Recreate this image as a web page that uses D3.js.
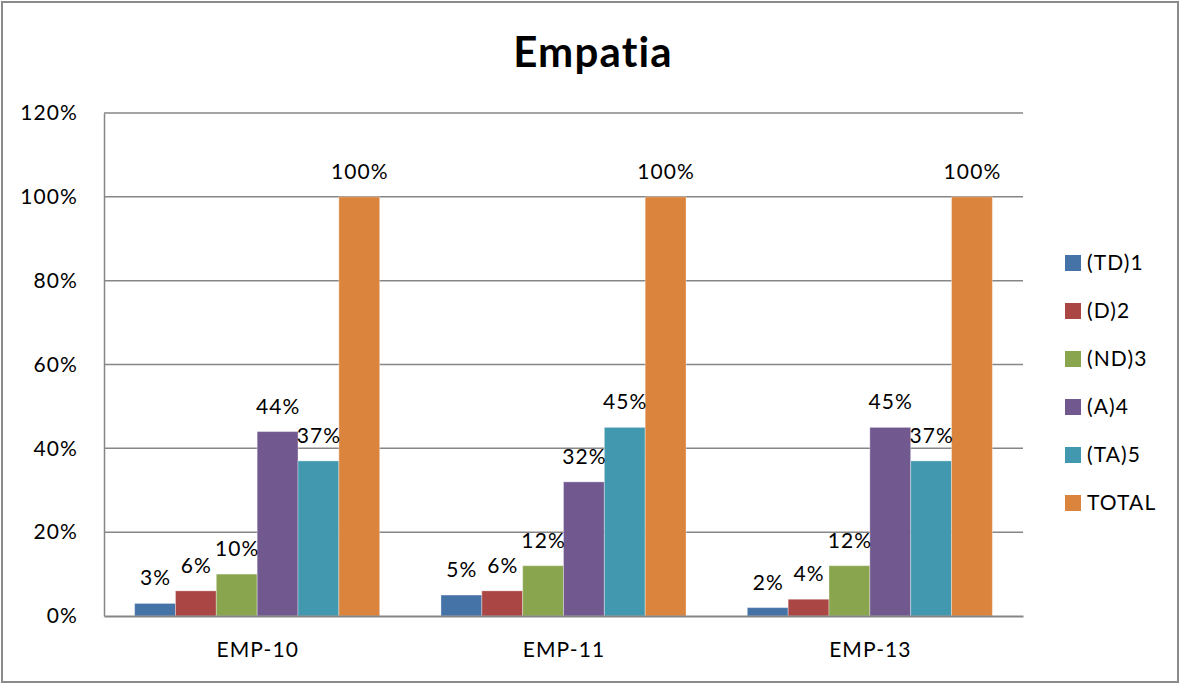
<!DOCTYPE html>
<html>
<head>
<meta charset="utf-8">
<script src="https://cdn.jsdelivr.net/npm/d3@7/dist/d3.min.js"></script>
<style>
  html, body { margin: 0; padding: 0; background: #fff; }
  svg { display: block; font-family: Lato, "Open Sans", sans-serif; }
</style>
</head>
<body>
<svg id="chart" width="1180" height="684"></svg>
<script>
// Survey results for the "Empatia" items, percent of answers per scale point
const categories = ["EMP-10", "EMP-11", "EMP-13"];
const seriesNames = ["(TD)1", "(D)2", "(ND)3", "(A)4", "(TA)5", "TOTAL"];
const td1   = [3, 5, 2];
const d2    = [6, 6, 4];
const nd3   = [10, 12, 12];
const a4    = [44, 32, 45];
const ta5   = [37, 45, 37];
const total = [100, 100, 100];
const yTicks = [0, 20, 40, 60, 80, 100, 120];
const colors = ["#4572A7", "#AA4643", "#89A54E", "#71588F", "#4198AF", "#DB843D"];

const seriesValues = [td1, d2, nd3, a4, ta5, total];

const svg = d3.select("#chart");
const W = 1180, H = 684;
const plot = { left: 104, right: 1023, top: 113, bottom: 616 };
const FS = 21, LS = 1.1;

// outer frame
svg.append("rect")
  .attr("x", 2).attr("y", 2)
  .attr("width", W - 4).attr("height", H - 4)
  .attr("fill", "#fff")
  .attr("stroke", "#8a8a8a")
  .attr("stroke-width", 2);

// title
svg.append("text")
  .attr("x", 593).attr("y", 67)
  .attr("text-anchor", "middle")
  .attr("font-size", 42)
  .attr("font-weight", "bold")
  .attr("letter-spacing", 1.2)
  .attr("fill", "#000")
  .text("Empatia");

const y = d3.scaleLinear().domain([0, 120]).range([plot.bottom, plot.top]);
const x0 = d3.scaleBand().domain(categories).range([plot.left, plot.right]).padding(0);
// six bars per cluster, 150% gap width between clusters
const gapFrac = 1.5 / (6 + 1.5);
const x1 = d3.scaleBand().domain(seriesNames)
  .range([x0.bandwidth() * gapFrac / 2, x0.bandwidth() * (1 - gapFrac / 2)])
  .padding(0);

// gridlines
svg.append("g")
  .selectAll("line")
  .data(yTicks.filter(t => t > 0))
  .join("line")
  .attr("x1", plot.left).attr("x2", plot.right)
  .attr("y1", d => y(d)).attr("y2", d => y(d))
  .attr("stroke", "#868686")
  .attr("stroke-width", 1.5);

// y axis
const yAxis = svg.append("g")
  .attr("transform", `translate(${plot.left},0)`)
  .call(d3.axisLeft(y).tickValues(yTicks).tickSize(0).tickPadding(26).tickFormat(d => d + "%"));
yAxis.select(".domain").attr("stroke", "#868686").attr("stroke-width", 1.5);
yAxis.selectAll("text").attr("font-size", FS).attr("fill", "#000")
  .attr("letter-spacing", LS)
  .attr("font-family", "Lato, 'Open Sans', sans-serif");

// bars
const groups = svg.append("g")
  .selectAll("g")
  .data(categories)
  .join("g")
  .attr("transform", d => `translate(${x0(d)},0)`);

groups.selectAll("rect")
  .data((c, ci) => seriesNames.map((s, si) => ({ s, si, v: seriesValues[si][ci] })))
  .join("rect")
  .attr("x", d => x1(d.s))
  .attr("width", x1.bandwidth())
  .attr("y", d => y(d.v))
  .attr("height", d => y(0) - y(d.v))
  .attr("fill", d => colors[d.si])
  .attr("stroke", "rgba(255,255,255,0.35)")
  .attr("stroke-width", 1);

// value labels
groups.selectAll("text.val")
  .data((c, ci) => seriesNames.map((s, si) => ({ s, si, v: seriesValues[si][ci] })))
  .join("text")
  .attr("class", "val")
  .attr("x", d => x1(d.s) + x1.bandwidth() / 2 + LS / 2)
  .attr("y", d => y(d.v) - 18)
  .attr("text-anchor", "middle")
  .attr("font-size", FS)
  .attr("letter-spacing", LS)
  .attr("fill", "#000")
  .text(d => d.v + "%");

// x axis
const xAxis = svg.append("g")
  .attr("transform", `translate(0,${plot.bottom})`)
  .call(d3.axisBottom(x0).tickSize(0).tickPadding(26));
xAxis.select(".domain").attr("stroke", "#868686").attr("stroke-width", 2);
xAxis.selectAll("text").attr("font-size", FS).attr("fill", "#000")
  .attr("letter-spacing", LS)
  .attr("dx", LS / 2)
  .attr("font-family", "Lato, 'Open Sans', sans-serif");

// legend
const legend = svg.append("g")
  .selectAll("g")
  .data(seriesNames)
  .join("g")
  .attr("transform", (d, i) => `translate(1065,${263 + i * 48})`);
legend.append("rect")
  .attr("x", 0).attr("y", -8)
  .attr("width", 16).attr("height", 16)
  .attr("fill", (d, i) => colors[i]);
legend.append("text")
  .attr("x", 22).attr("y", 0)
  .attr("dy", "0.35em")
  .attr("font-size", FS)
  .attr("letter-spacing", LS)
  .attr("fill", "#000")
  .text(d => d);
</script>
</body>
</html>
